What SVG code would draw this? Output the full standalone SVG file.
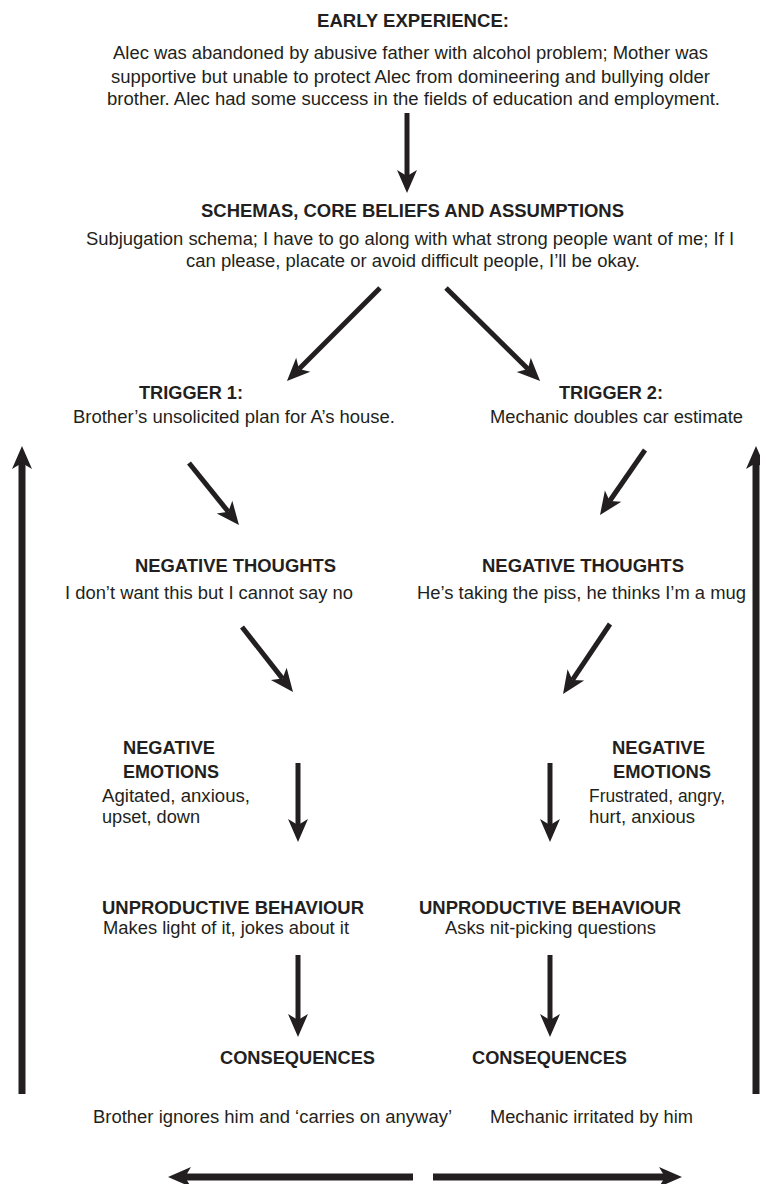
<svg xmlns="http://www.w3.org/2000/svg" width="760" height="1184" viewBox="0 0 760 1184">
<style>
text { font-family: "Liberation Sans", Arial, Helvetica, sans-serif; fill: #231f20; }
.h { font-size: 18px; font-weight: bold; }
.b { font-size: 17.5px; }
.c { stroke: #231f20; fill: none; stroke-linecap: butt; }
.s { stroke-width: 5; }
.w { stroke-width: 7; }
</style>
<defs>
<marker id="ah" markerUnits="userSpaceOnUse" viewBox="-7 -11 26 22" refX="0" refY="0" markerWidth="26" markerHeight="22" orient="auto">
<path d="M17,0 L-6,-10 L0,0 L-6,10 Z" fill="#231f20"/>
</marker>
</defs>
<rect width="760" height="1184" fill="#ffffff"/>

<g id="early">
<text class="h" x="317" y="27" textLength="192" lengthAdjust="spacingAndGlyphs">EARLY EXPERIENCE:</text>
<text class="b" x="113" y="59" textLength="595" lengthAdjust="spacingAndGlyphs">Alec was abandoned by abusive father with alcohol problem; Mother was</text>
<text class="b" x="111" y="83" textLength="599" lengthAdjust="spacingAndGlyphs">supportive but unable to protect Alec from domineering and bullying older</text>
<text class="b" x="107" y="105" textLength="613" lengthAdjust="spacingAndGlyphs">brother. Alec had some success in the fields of education and employment.</text>
</g>

<g id="schemas">
<text class="h" x="201" y="217" textLength="423" lengthAdjust="spacingAndGlyphs">SCHEMAS, CORE BELIEFS AND ASSUMPTIONS</text>
<text class="b" x="86" y="245" textLength="648" lengthAdjust="spacingAndGlyphs">Subjugation schema; I have to go along with what strong people want of me; If I</text>
<text class="b" x="186" y="267" textLength="454" lengthAdjust="spacingAndGlyphs">can please, placate or avoid difficult people, I’ll be okay.</text>
</g>

<g id="trigger1">
<text class="h" x="139" y="399" textLength="104" lengthAdjust="spacingAndGlyphs">TRIGGER 1:</text>
<text class="b" x="73" y="423" textLength="322" lengthAdjust="spacingAndGlyphs">Brother’s unsolicited plan for A’s house.</text>
</g>

<g id="trigger2">
<text class="h" x="559" y="399" textLength="104" lengthAdjust="spacingAndGlyphs">TRIGGER 2:</text>
<text class="b" x="490" y="423" textLength="253" lengthAdjust="spacingAndGlyphs">Mechanic doubles car estimate</text>
</g>

<g id="thoughts1">
<text class="h" x="135" y="572" textLength="201" lengthAdjust="spacingAndGlyphs">NEGATIVE THOUGHTS</text>
<text class="b" x="65" y="599" textLength="288" lengthAdjust="spacingAndGlyphs">I don’t want this but I cannot say no</text>
</g>

<g id="thoughts2">
<text class="h" x="482" y="572" textLength="202" lengthAdjust="spacingAndGlyphs">NEGATIVE THOUGHTS</text>
<text class="b" x="417" y="599" textLength="329" lengthAdjust="spacingAndGlyphs">He’s taking the piss, he thinks I’m a mug</text>
</g>

<g id="emotions1">
<text class="h" x="123" y="754" textLength="92" lengthAdjust="spacingAndGlyphs">NEGATIVE</text>
<text class="h" x="123" y="778" textLength="96" lengthAdjust="spacingAndGlyphs">EMOTIONS</text>
<text class="b" x="102" y="802" textLength="148" lengthAdjust="spacingAndGlyphs">Agitated, anxious,</text>
<text class="b" x="102" y="823" textLength="98" lengthAdjust="spacingAndGlyphs">upset, down</text>
</g>

<g id="emotions2">
<text class="h" x="612" y="754" textLength="93" lengthAdjust="spacingAndGlyphs">NEGATIVE</text>
<text class="h" x="613" y="778" textLength="98" lengthAdjust="spacingAndGlyphs">EMOTIONS</text>
<text class="b" x="589" y="802" textLength="136" lengthAdjust="spacingAndGlyphs">Frustrated, angry,</text>
<text class="b" x="589" y="823" textLength="106" lengthAdjust="spacingAndGlyphs">hurt, anxious</text>
</g>

<g id="behaviour1">
<text class="h" x="102" y="914" textLength="262" lengthAdjust="spacingAndGlyphs">UNPRODUCTIVE BEHAVIOUR</text>
<text class="b" x="103" y="934" textLength="246" lengthAdjust="spacingAndGlyphs">Makes light of it, jokes about it</text>
</g>

<g id="behaviour2">
<text class="h" x="419" y="914" textLength="262" lengthAdjust="spacingAndGlyphs">UNPRODUCTIVE BEHAVIOUR</text>
<text class="b" x="445" y="934" textLength="211" lengthAdjust="spacingAndGlyphs">Asks nit-picking questions</text>
</g>

<g id="consequences1">
<text class="h" x="220" y="1064" textLength="155" lengthAdjust="spacingAndGlyphs">CONSEQUENCES</text>
<text class="b" x="93" y="1123" textLength="359" lengthAdjust="spacingAndGlyphs">Brother ignores him and ‘carries on anyway’</text>
</g>

<g id="consequences2">
<text class="h" x="472" y="1064" textLength="155" lengthAdjust="spacingAndGlyphs">CONSEQUENCES</text>
<text class="b" x="490" y="1123" textLength="203" lengthAdjust="spacingAndGlyphs">Mechanic irritated by him</text>
</g>

<g id="connectors">
<line class="c s" x1="407" y1="113" x2="407" y2="176" marker-end="url(#ah)"/>
<line class="c s" x1="380" y1="288" x2="299" y2="369" marker-end="url(#ah)"/>
<line class="c s" x1="446" y1="288" x2="528" y2="369" marker-end="url(#ah)"/>
<line class="c s" x1="189" y1="463" x2="228.3" y2="511.8" marker-end="url(#ah)"/>
<line class="c s" x1="645" y1="450" x2="609.7" y2="501" marker-end="url(#ah)"/>
<line class="c s" x1="242" y1="627" x2="282.5" y2="678.6" marker-end="url(#ah)"/>
<line class="c s" x1="610" y1="624" x2="572.5" y2="679.9" marker-end="url(#ah)"/>
<line class="c s" x1="298" y1="763" x2="298" y2="825" marker-end="url(#ah)"/>
<line class="c s" x1="550" y1="763" x2="550" y2="825" marker-end="url(#ah)"/>
<line class="c s" x1="298" y1="955" x2="298" y2="1020" marker-end="url(#ah)"/>
<line class="c s" x1="550" y1="955" x2="550" y2="1020" marker-end="url(#ah)"/>
<line class="c w" x1="22" y1="1094" x2="22" y2="463" marker-end="url(#ah)"/>
<line class="c w" x1="756" y1="1094" x2="756" y2="463" marker-end="url(#ah)"/>
<line class="c w" x1="413" y1="1177" x2="185" y2="1177" marker-end="url(#ah)"/>
<line class="c w" x1="433" y1="1177" x2="665" y2="1177" marker-end="url(#ah)"/>
</g>
</svg>
